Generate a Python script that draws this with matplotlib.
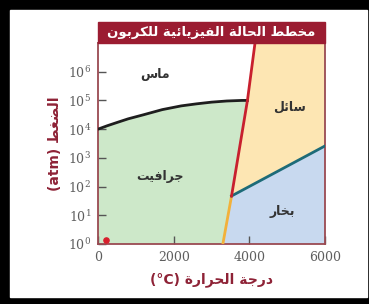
import matplotlib
matplotlib.use("Agg")
import matplotlib.pyplot as plt
from matplotlib.patches import Rectangle

# ── Data (T in °C, P in atm) ─────────────────────────────────────────────
diamond_T = [0, 250, 500, 800, 1200, 1700, 2200, 2600, 3000, 3400, 3800, 3950]
diamond_P = [1.0e4, 1.32e4, 1.70e4, 2.29e4, 3.16e4, 4.79e4, 6.46e4,
             7.59e4, 8.71e4, 9.55e4, 1.0e5, 1.0e5]

melt_T = [3530, 3950, 4150]          # graphite/diamond -> liquid
melt_P = [47, 1.0e5, 1.0e7]

subl_T = [3300, 3530]                # graphite -> vapour
subl_P = [1.0, 47]

boil_T = [3530, 6000]                # liquid -> vapour
boil_P = [47, 2.6e3]

dot_T, dot_P = [200], [1.4]

x_ticks = [0, 2000, 4000, 6000]
y_exps = [0, 1, 2, 3, 4, 5, 6]

labels = {
    "ماس": (1500, 8.0e5),
    "سائل": (5070, 6.0e4),
    "جرافيت": (1640, 2.3e2),
    "بخار": (4880, 1.4e1),
}
title = "مخطط الحالة الفيزيائية للكربون"
xlab = "درجة الحرارة"
ylab = "الضغط"

# ── Minimal Arabic shaping (matplotlib does no text shaping / bidi) ────
FORMS = {
    'ا': (0xFE8D, False), 'ب': (0xFE8F, True), 'ة': (0xFE93, False),
    'ت': (0xFE95, True), 'ج': (0xFE9D, True), 'ح': (0xFEA1, True),
    'خ': (0xFEA5, True), 'د': (0xFEA9, False), 'ر': (0xFEAD, False),
    'ز': (0xFEAF, False), 'س': (0xFEB1, True), 'ض': (0xFEBD, True),
    'ط': (0xFEC1, True), 'غ': (0xFECD, True), 'ف': (0xFED1, True),
    'ك': (0xFED9, True), 'ل': (0xFEDD, True), 'م': (0xFEE1, True),
    'ن': (0xFEE5, True), 'و': (0xFEED, False), 'ي': (0xFEF1, True),
    'ئ': (0xFE89, True),
}


def ar(text):
    out = []
    for i, ch in enumerate(text):
        if ch not in FORMS:
            out.append(ch)
            continue
        base, dual = FORMS[ch]
        prev = text[i - 1] if i > 0 else ''
        nxt = text[i + 1] if i + 1 < len(text) else ''
        jp = prev in FORMS and FORMS[prev][1]
        jn = dual and nxt in FORMS
        off = 3 if (jp and jn) else 1 if jp else 2 if jn else 0
        out.append(chr(base + off))
    return ''.join(reversed(out))


plt.rcParams['font.family'] = ['DejaVu Sans']
plt.rcParams['mathtext.fontset'] = 'dejavuserif'

W, H = 369, 304
fig = plt.figure(figsize=(W / 100, H / 100), dpi=100, facecolor="black")
fig.patches.append(Rectangle((10 / W, 1 - 297 / H), 357 / W, 287 / H,
                             transform=fig.transFigure, color="white", zorder=-5))

ax = fig.add_axes([98 / W, 1 - 244 / H, 227 / W, 201 / H])
ax.set_yscale("log")
ax.set_xlim(0, 6000)
ax.set_ylim(1, 1e7)

green, yellow, blue = "#cde8c9", "#fde6b3", "#c8d9ef"
top, right, bottom = 1e7, 6000, 1

# graphite region
gx = [0] + diamond_T + melt_T[1::-1] + subl_T[::-1] + [0]
gy = [bottom] + diamond_P + melt_P[1::-1] + subl_P[::-1] + [bottom]
ax.fill(gx, gy, color=green, lw=0, zorder=1)
# liquid region
ax.fill(melt_T + [right] + boil_T[::-1], melt_P + [top] + boil_P[::-1],
        color=yellow, lw=0, zorder=1)
# vapour region
ax.fill(boil_T + [right] + subl_T, boil_P + [bottom] + subl_P,
        color=blue, lw=0, zorder=1)

ax.plot(diamond_T, diamond_P, color="#1e1e1e", lw=2, zorder=3)
ax.plot(subl_T, subl_P, color="#f2b13a", lw=2, zorder=3)
ax.plot(boil_T, boil_P, color="#1d6b78", lw=2, zorder=3)
ax.plot(melt_T, melt_P, color="#c8202e", lw=2, zorder=4)
ax.scatter(dot_T, dot_P, s=14, color="#d81e2c", zorder=5)

for txt, (x, y) in labels.items():
    ax.text(x, y, ar(txt), fontsize=9, fontweight="bold", color="#333333",
            ha="center", va="center", zorder=6)

ax.set_xticks(x_ticks)
ax.set_xticklabels([str(t) for t in x_ticks])
ax.set_yticks([10.0 ** e for e in y_exps])
ax.set_yticklabels([f"$10^{{{e}}}$" for e in y_exps])
ax.minorticks_off()
ax.tick_params(direction="in", length=6, width=1, color="#555555",
               labelcolor="#5e5e5e", labelsize=9, pad=5)
for lab in ax.get_xticklabels() + ax.get_yticklabels():
    lab.set_fontfamily("DejaVu Serif")

for sp in ax.spines.values():
    sp.set_color("#9a4a52")
    sp.set_linewidth(1.3)

label_color = "#8e2236"
ax.set_xlabel("(°C) " + ar(xlab), fontsize=10, fontweight="bold",
              color=label_color, labelpad=6)
ax.set_ylabel("(atm) " + ar(ylab), fontsize=10, fontweight="bold",
              color=label_color, labelpad=4)

# title bar
fig.patches.append(Rectangle((98 / W, 1 - 43 / H), 227 / W, 21 / H,
                             transform=fig.transFigure, color="#9b1c31", zorder=2))
fig.text(211.5 / W, 1 - 32.5 / H, ar(title), color="white", fontsize=9.5,
         fontweight="bold", ha="center", va="center", zorder=3)

fig.savefig("out.png", dpi=100, facecolor="black")
